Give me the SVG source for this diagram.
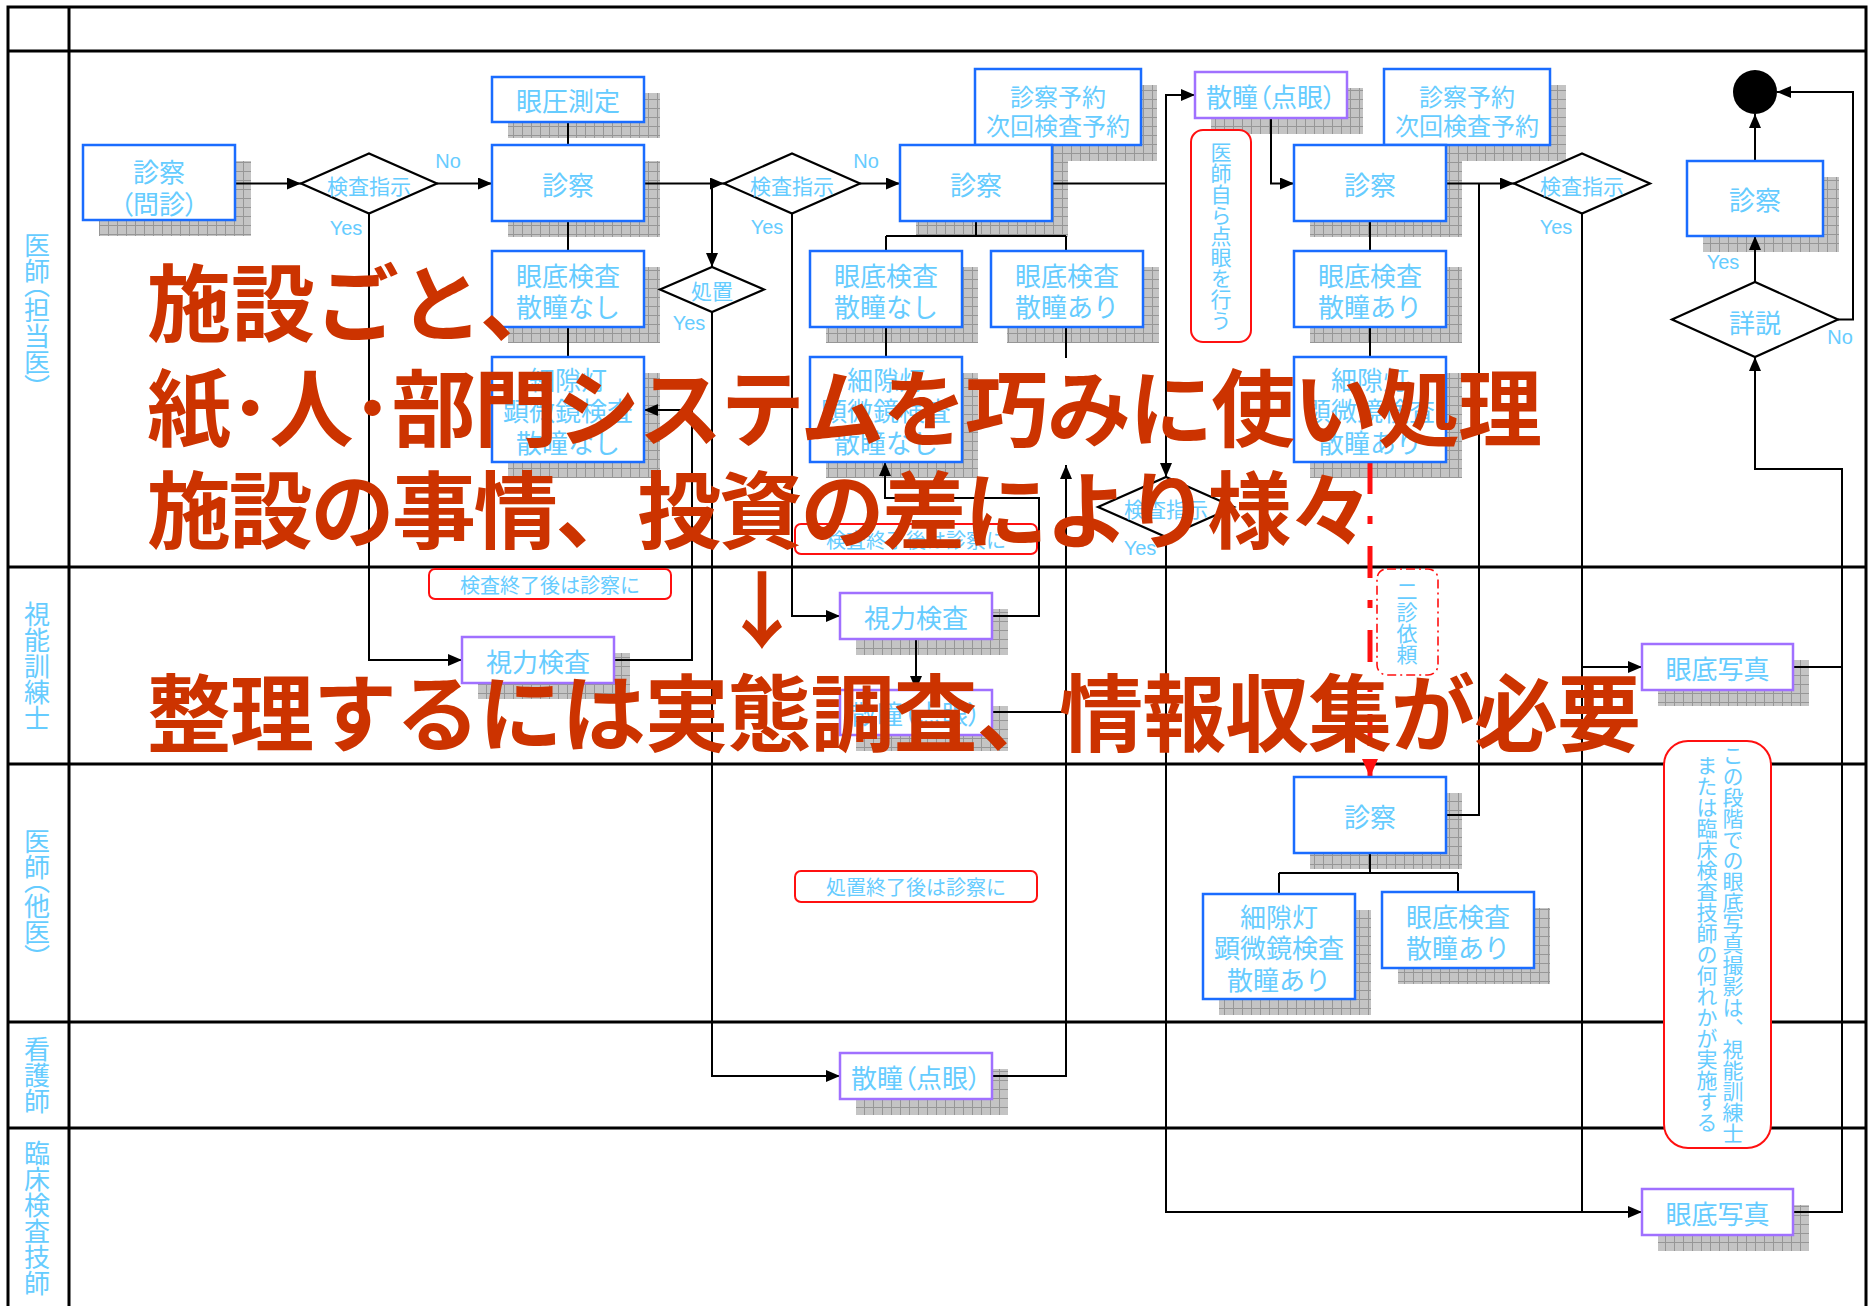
<svg xmlns="http://www.w3.org/2000/svg" width="1868" height="1306" viewBox="0 0 1868 1306">
<style>
.frame{fill:none;stroke:#000;stroke-width:3}
.box{fill:#fff;stroke:#1a6cff;stroke-width:2.5}
.pbox{fill:#fff;stroke:#a070ff;stroke-width:2.5}
.dia{fill:#fff;stroke:#000;stroke-width:2.2}
.sh{fill:url(#hatch)}
.note{fill:#fff;stroke:#ff1010;stroke-width:2}
.dnote{fill:#fff;stroke:#ff1010;stroke-width:1.6;stroke-dasharray:9 4 2 4}
.c{fill:none;stroke:#000;stroke-width:2}
.ca{fill:none;stroke:#000;stroke-width:2;marker-end:url(#ah)}
.red{fill:none;stroke:#ff1010;stroke-width:5;stroke-dasharray:32 22 8 22;marker-end:url(#ahr)}
.t{font-family:"Noto Sans CJK JP","Noto Sans",sans-serif;fill:#66ccff;text-anchor:middle;dominant-baseline:central}
.f26{font-size:26px}
.f24{font-size:24px}
.f21{font-size:21px}
.f20{font-size:20px}
.yn{font-family:"Liberation Sans","Noto Sans",sans-serif;fill:#66ccff;font-size:20px;text-anchor:middle;dominant-baseline:central}
.v{writing-mode:vertical-rl}
.pp{font-feature-settings:"vpal"}
.hp{font-feature-settings:"palt"}
.big{font-family:"Noto Sans CJK JP",sans-serif;font-weight:700;font-size:84px;fill:#cc3300;dominant-baseline:central}
</style>
<defs>
<pattern id="hatch" width="9" height="9" patternUnits="userSpaceOnUse">
<rect width="9" height="9" fill="#c4c4c4"/>
<path d="M0,0.5H9M0.5,0V9" stroke="#969696" stroke-width="1"/>
</pattern>
<marker id="ah" viewBox="0 0 14 12" refX="14" refY="6" markerWidth="14" markerHeight="12" markerUnits="userSpaceOnUse" orient="auto"><path d="M0,0L14,6L0,12Z" fill="#000"/></marker>
<marker id="ahr" viewBox="0 0 18 16" refX="18" refY="8" markerWidth="18" markerHeight="16" markerUnits="userSpaceOnUse" orient="auto"><path d="M0,0L18,8L0,16Z" fill="#ff1010"/></marker>
</defs>
<rect width="1868" height="1306" fill="#fff"/>

<g id="frame">
<path class="frame" d="M8,1310V7H1866V1310M8,51H1866M69,7V1310M8,567H1866M8,764H1866M8,1022H1866M8,1128H1866"/>
<text class="t f26 v pp" x="37" y="310">医師（担当医）</text>
<text class="t f26 v" x="37" y="666">視能訓練士</text>
<text class="t f26 v pp" x="37" y="893">医師（他医）</text>
<text class="t f26 v" x="37" y="1075">看護師</text>
<text class="t f26 v" x="37" y="1218">臨床検査技師</text>
</g>

<g id="shadows">
<rect class="sh" x="99" y="161" width="152" height="75"/>
<rect class="sh" x="508" y="93" width="152" height="45"/>
<rect class="sh" x="508" y="161" width="152" height="76"/>
<rect class="sh" x="508" y="267" width="152" height="76"/>
<rect class="sh" x="508" y="373" width="152" height="105"/>
<rect class="sh" x="991" y="85" width="166" height="76"/>
<rect class="sh" x="916" y="161" width="152" height="76"/>
<rect class="sh" x="826" y="267" width="152" height="76"/>
<rect class="sh" x="1007" y="267" width="152" height="76"/>
<rect class="sh" x="826" y="373" width="152" height="105"/>
<rect class="sh" x="1211" y="88" width="152" height="46"/>
<rect class="sh" x="1400" y="85" width="166" height="76"/>
<rect class="sh" x="1310" y="161" width="152" height="76"/>
<rect class="sh" x="1310" y="267" width="152" height="76"/>
<rect class="sh" x="1310" y="373" width="152" height="105"/>
<rect class="sh" x="1703" y="177" width="136" height="75"/>
<rect class="sh" x="478" y="653" width="152" height="46"/>
<rect class="sh" x="856" y="609" width="152" height="46"/>
<rect class="sh" x="856" y="706" width="152" height="45"/>
<rect class="sh" x="1658" y="660" width="151" height="46"/>
<rect class="sh" x="1310" y="793" width="152" height="76"/>
<rect class="sh" x="1219" y="910" width="152" height="105"/>
<rect class="sh" x="1398" y="908" width="152" height="76"/>
<rect class="sh" x="856" y="1069" width="152" height="46"/>
<rect class="sh" x="1658" y="1205" width="151" height="46"/>
</g>

<g id="connectors">
<path class="ca" d="M235,183.5H301"/>
<path class="ca" d="M437,183.5H492"/>
<path class="ca" d="M369,213.5V660H462"/>
<path class="c" d="M568,122V145M568,221V251M568,327V357"/>
<path class="ca" d="M644,183.5H724"/>
<path class="ca" d="M712,183.5V267"/>
<path class="ca" d="M860,183.5H900"/>
<path class="ca" d="M792,213.5V616H840"/>
<path class="ca" d="M712,312V1076H840"/>
<path class="ca" d="M614,660H692V410H644"/>
<path class="ca" d="M992,616H1039V498H885V462"/>
<path class="ca" d="M916,639V690"/>
<path class="c" d="M992,712H1066"/>
<path class="ca" d="M992,1076H1066V465"/>
<path class="c" d="M1066,327V358"/>
<path class="c" d="M976,221V236M886,236H1066M886,236V251M1066,236V251M886,327V357"/>
<path class="ca" d="M1052,183.5H1166V95H1195"/>
<path class="ca" d="M1166,183.5V477"/>
<path class="ca" d="M1166,537V1212H1642"/>
<path class="ca" d="M1271,118V183.5H1294"/>
<path class="c" d="M1370,221V251M1370,327V357"/>
<path class="ca" d="M1446,183.5H1514"/>
<path class="c" d="M1445,815H1479V183.5"/>
<path class="c" d="M1582,213.5V1212"/>
<path class="ca" d="M1582,667H1642"/>
<path class="ca" d="M1793,667H1842V469H1755V357"/>
<path class="c" d="M1793,1212H1842V667"/>
<path class="ca" d="M1755,282V236"/>
<path class="ca" d="M1755,161V114"/>
<path class="ca" d="M1838,319.5H1853V92H1777"/>
<path class="c" d="M1370,853V873M1279,873H1458M1279,873V894M1458,873V892"/>
<path class="red" d="M1370,462V777"/>
</g>

<g id="n-monshin"><rect class="box" x="83" y="145" width="152" height="75"/><text class="t f26" x="159" y="170">診察</text><text class="t f26 hp" x="159" y="202">（問診）</text></g>
<g id="d-kensa1"><polygon class="dia" points="301,183.5 369,153.5 437,183.5 369,213.5"/><text class="t f21" x="369" y="185">検査指示</text><text class="yn" x="448" y="161">No</text><text class="yn" x="346" y="228">Yes</text></g>
<g id="n-ganatsu"><rect class="box" x="492" y="77" width="152" height="45"/><text class="t f26" x="568" y="99.5">眼圧測定</text></g>
<g id="n-shinsatsu2"><rect class="box" x="492" y="145" width="152" height="76"/><text class="t f26" x="568" y="183">診察</text></g>
<g id="n-gantei-a"><rect class="box" x="492" y="251" width="152" height="76"/><text class="t f26" x="568" y="274.5">眼底検査</text><text class="t f26" x="568" y="305.5">散瞳なし</text></g>
<g id="n-saigeki-a"><rect class="box" x="492" y="357" width="152" height="105"/><text class="t f26" x="568" y="378">細隙灯</text><text class="t f26" x="568" y="409.5">顕微鏡検査</text><text class="t f26" x="568" y="441">散瞳なし</text></g>
<g id="d-kensa2"><polygon class="dia" points="724,183.5 792,153.5 860,183.5 792,213.5"/><text class="t f21" x="792" y="185">検査指示</text><text class="yn" x="866" y="161">No</text><text class="yn" x="767" y="227">Yes</text></g>
<g id="d-shochi"><polygon class="dia" points="660,289.5 712,267 764,289.5 712,312"/><text class="t f21" x="712" y="290">処置</text><text class="yn" x="689" y="323">Yes</text></g>
<g id="n-yoyaku1"><rect class="box" x="975" y="69" width="166" height="76"/><text class="t f24" x="1058" y="95">診察予約</text><text class="t f24" x="1058" y="124">次回検査予約</text></g>
<g id="n-shinsatsu3"><rect class="box" x="900" y="145" width="152" height="76"/><text class="t f26" x="976" y="183">診察</text></g>
<g id="n-gantei-b1"><rect class="box" x="810" y="251" width="152" height="76"/><text class="t f26" x="886" y="274.5">眼底検査</text><text class="t f26" x="886" y="305.5">散瞳なし</text></g>
<g id="n-gantei-b2"><rect class="box" x="991" y="251" width="152" height="76"/><text class="t f26" x="1067" y="274.5">眼底検査</text><text class="t f26" x="1067" y="305.5">散瞳あり</text></g>
<g id="n-saigeki-b"><rect class="box" x="810" y="357" width="152" height="105"/><text class="t f26" x="886" y="378">細隙灯</text><text class="t f26" x="886" y="409.5">顕微鏡検査</text><text class="t f26" x="886" y="441">散瞳なし</text></g>
<g id="n-sandou1"><rect class="pbox" x="1195" y="72" width="152" height="46"/><text class="t f26 hp" x="1271" y="95">散瞳（点眼）</text></g>
<g id="note-tengan"><rect class="note" x="1191" y="130" width="60" height="212" rx="12"/><text class="t f21 v" x="1221" y="236">医師自ら点眼を行う</text></g>
<g id="n-yoyaku2"><rect class="box" x="1384" y="69" width="166" height="76"/><text class="t f24" x="1467" y="95">診察予約</text><text class="t f24" x="1467" y="124">次回検査予約</text></g>
<g id="n-shinsatsu4"><rect class="box" x="1294" y="145" width="152" height="76"/><text class="t f26" x="1370" y="183">診察</text></g>
<g id="n-gantei-c"><rect class="box" x="1294" y="251" width="152" height="76"/><text class="t f26" x="1370" y="274.5">眼底検査</text><text class="t f26" x="1370" y="305.5">散瞳あり</text></g>
<g id="n-saigeki-c"><rect class="box" x="1294" y="357" width="152" height="105"/><text class="t f26" x="1370" y="378">細隙灯</text><text class="t f26" x="1370" y="409.5">顕微鏡検査</text><text class="t f26" x="1370" y="441">散瞳あり</text></g>
<g id="d-kensa4"><polygon class="dia" points="1514,183.5 1582,153.5 1650,183.5 1582,213.5"/><text class="t f21" x="1582" y="185">検査指示</text><text class="yn" x="1556" y="227">Yes</text></g>
<g id="end"><circle cx="1755" cy="92" r="22" fill="#000"/></g>
<g id="n-shinsatsu5"><rect class="box" x="1687" y="161" width="136" height="75"/><text class="t f26" x="1755" y="198">診察</text></g>
<g id="d-shosetsu"><polygon class="dia" points="1672,319.5 1755,282 1838,319.5 1755,357"/><text class="t f26" x="1755" y="321">詳説</text><text class="yn" x="1723" y="262">Yes</text><text class="yn" x="1840" y="337">No</text></g>
<g id="d-kensa3"><polygon class="dia" points="1098,507 1166,477 1234,507 1166,537"/><text class="t f21" x="1166" y="508">検査指示</text><text class="yn" x="1140" y="548">Yes</text></g>
<g id="note-kensa1"><rect class="note" x="429" y="569" width="242" height="30" rx="6"/><text class="t f20" x="550" y="584">検査終了後は診察に</text></g>
<g id="n-shiryoku1"><rect class="pbox" x="462" y="637" width="152" height="46"/><text class="t f26" x="538" y="660">視力検査</text></g>
<g id="note-kensa2"><rect class="note" x="795" y="524" width="242" height="30" rx="6"/><text class="t f20" x="916" y="539">検査終了後は診察に</text></g>
<g id="n-shiryoku2"><rect class="pbox" x="840" y="593" width="152" height="46"/><text class="t f26" x="916" y="616">視力検査</text></g>
<g id="n-sandou2"><rect class="pbox" x="840" y="690" width="152" height="45"/><text class="t f26 hp" x="916" y="712.5">散瞳（点眼）</text></g>
<g id="note-nishin"><rect class="dnote" x="1377" y="569" width="61" height="106" rx="10"/><text class="t f21 v" x="1407" y="623">二診依頼</text></g>
<g id="n-ganteishashin1"><rect class="pbox" x="1642" y="644" width="151" height="46"/><text class="t f26" x="1717.5" y="667">眼底写真</text></g>
<g id="n-shinsatsu6"><rect class="box" x="1294" y="777" width="152" height="76"/><text class="t f26" x="1370" y="815">診察</text></g>
<g id="n-saigeki-d"><rect class="box" x="1203" y="894" width="152" height="105"/><text class="t f26" x="1279" y="915">細隙灯</text><text class="t f26" x="1279" y="946.5">顕微鏡検査</text><text class="t f26" x="1279" y="978">散瞳あり</text></g>
<g id="n-gantei-d"><rect class="box" x="1382" y="892" width="152" height="76"/><text class="t f26" x="1458" y="915.5">眼底検査</text><text class="t f26" x="1458" y="946.5">散瞳あり</text></g>
<g id="note-shochi"><rect class="note" x="795" y="871" width="242" height="31" rx="6"/><text class="t f20" x="916" y="886.5">処置終了後は診察に</text></g>
<g id="note-shashin"><rect class="note" x="1664" y="741" width="107" height="407" rx="24"/><text class="t f21 v" x="1733" y="944">この段階での眼底写真撮影は、視能訓練士</text><text class="t f21 v" x="1707" y="944">または臨床検査技師の何れかが実施する</text></g>
<g id="n-sandou3"><rect class="pbox" x="840" y="1053" width="152" height="46"/><text class="t f26 hp" x="916" y="1076">散瞳（点眼）</text></g>
<g id="n-ganteishashin2"><rect class="pbox" x="1642" y="1189" width="151" height="46"/><text class="t f26" x="1717.5" y="1212">眼底写真</text></g>

<g id="overlay">
<text class="big" x="147" y="298">施設ごと、</text>
<text class="big" x="147" y="403" textLength="1395" lengthAdjust="spacing">紙･人･部門システムを巧みに使い処理</text>
<text class="big" x="147" y="505" textLength="1226" lengthAdjust="spacing">施設の事情、投資の差により様々</text>
<text class="big" x="762" y="605" text-anchor="middle">↓</text>
<text class="big" x="147" y="708" textLength="1494" lengthAdjust="spacing">整理するには実態調査、情報収集が必要</text>
</g>
</svg>
